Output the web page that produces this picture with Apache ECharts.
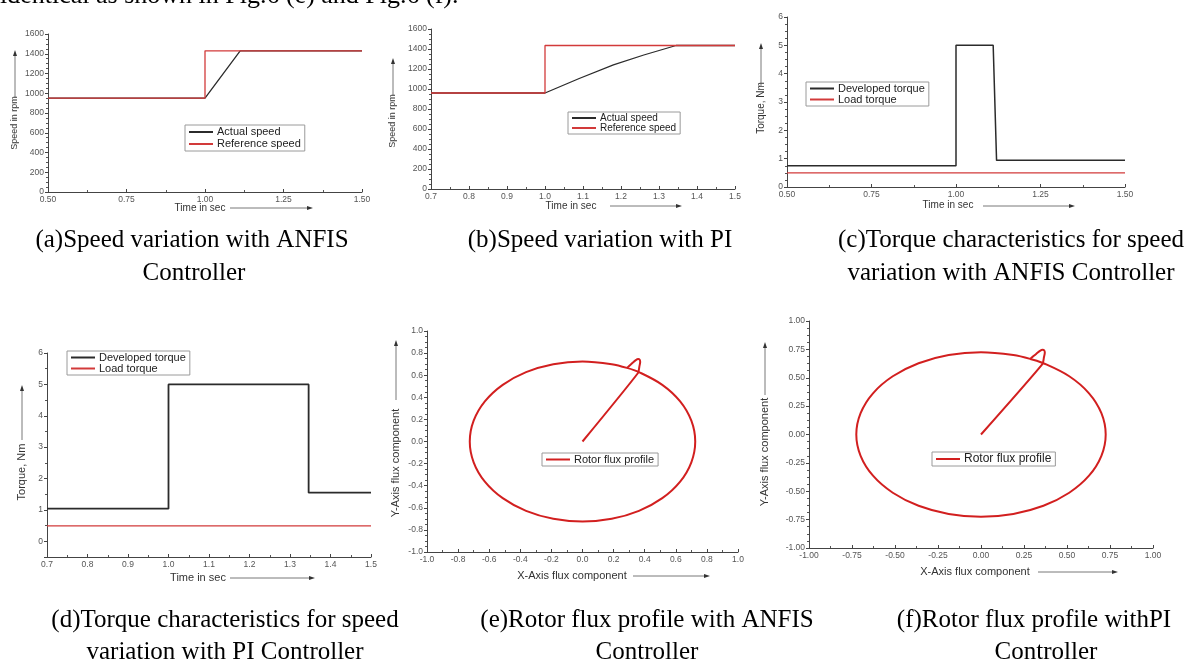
<!DOCTYPE html>
<html>
<head>
<meta charset="utf-8">
<script src="https://cdn.jsdelivr.net/npm/echarts@6/dist/echarts.min.js"></script>
<style>
  html, body { margin: 0; padding: 0; background: #fff; }
  #chart { width: 1195px; height: 664px; }
</style>
</head>
<body>
<div id="chart"></div>
<script>
// (a) speed with ANFIS
var timeAnfisRef = [0.5, 1.0, 1.0, 1.5]
var speedAnfisRef = [950, 950, 1430, 1430]
var timeAnfisAct = [0.5, 1.0, 1.112, 1.5]
var speedAnfisAct = [950, 950, 1430, 1430]
// (b) speed with PI
var timePiRef = [0.7, 1.0, 1.0, 1.5]
var speedPiRef = [960, 960, 1435, 1435]
var timePiAct = [0.7, 1.0, 1.09, 1.18, 1.26, 1.345, 1.5]
var speedPiAct = [960, 960, 1105, 1242, 1340, 1435, 1435]
// (c) torque with ANFIS
var timeAnfisDev = [0.5, 1.0, 1.0, 1.11, 1.12, 1.5]
var torqueAnfisDev = [0.75, 0.75, 5.0, 5.0, 0.94, 0.94]
var timeAnfisLoad = [0.5, 1.5]
var torqueAnfisLoad = [0.5, 0.5]
// (d) torque with PI
var timePiDev = [0.7, 1.0, 1.0, 1.346, 1.346, 1.5]
var torquePiDev = [1.04, 1.04, 5.0, 5.0, 1.55, 1.55]
var timePiLoad = [0.7, 1.5]
var torquePiLoad = [0.49, 0.49]
// (e) and (f) rotor flux locus (same shape for both controllers)
// start-up: straight rise from the origin and the small overshoot loop
var fluxStartX = [0, 0.357, 0.366, 0.371, 0.368, 0.358, 0.343, 0.322, 0.3, 0.286]
var fluxStartY = [0, 0.62, 0.68, 0.72, 0.74, 0.746, 0.737, 0.712, 0.684, 0.666]
// steady-state circle
var fluxRingX = [0.286, 0.188, 0, -0.188, -0.363, -0.513, -0.628, -0.7, -0.725, -0.7, -0.628, -0.513, -0.363, -0.188, 0, 0.188, 0.363, 0.513, 0.628, 0.7, 0.725, 0.7, 0.628, 0.513, 0.363, 0.286]
var fluxRingY = [0.666, 0.7, 0.725, 0.7, 0.628, 0.513, 0.363, 0.188, 0, -0.188, -0.363, -0.513, -0.628, -0.7, -0.725, -0.7, -0.628, -0.513, -0.363, -0.188, 0, 0.188, 0.363, 0.513, 0.628, 0.666]

var captions = [
  ['(a)Speed variation with ANFIS', 'Controller'],
  ['(b)Speed variation with PI', ''],
  ['(c)Torque characteristics for speed', 'variation with ANFIS Controller'],
  ['(d)Torque characteristics for speed', 'variation with PI Controller'],
  ['(e)Rotor flux profile with ANFIS', 'Controller'],
  ['(f)Rotor flux profile withPI', 'Controller']
]

var BLACK = '#2b2b2b'
var RED = '#d23a3a'
var FLUX = '#d21f1f'
var SANS = 'Liberation Sans, Arial, sans-serif'
var SERIF = 'Liberation Serif, Times New Roman, serif'

function pairs(xs, ys) {
  var out = []
  for (var i = 0; i < xs.length; i++) out.push([xs[i], ys[i]])
  return out
}

function xAxis(grid, min, max, interval, digits) {
  return {
    type: 'value', gridIndex: grid, min: min, max: max, interval: interval,
    axisLine: { onZero: false, lineStyle: { color: '#444', width: 1 } },
    axisTick: { inside: true, length: 3, lineStyle: { color: '#444' } },
    minorTick: { show: true, splitNumber: 2, length: 2, lineStyle: { color: '#555' } },
    splitLine: { show: false },
    axisLabel: {
      color: '#555', fontSize: 8.5, fontFamily: SANS, margin: 3,
      formatter: function(v) { return v.toFixed(digits) }
    }
  }
}

function yAxis(grid, min, max, interval, digits, splitNumber) {
  var ax = {
    type: 'value', gridIndex: grid, min: min, max: max,
    axisLine: { show: true, onZero: false, lineStyle: { color: '#444', width: 1 } },
    axisTick: { show: true, length: 3, lineStyle: { color: '#444' } },
    minorTick: { show: true, splitNumber: 4, length: 2, lineStyle: { color: '#555' } },
    splitLine: { show: false },
    axisLabel: {
      color: '#555', fontSize: 8.5, fontFamily: SANS, margin: 4,
      formatter: function(v) { return v.toFixed(digits) }
    }
  }
  if (interval) ax.interval = interval
  if (splitNumber) ax.splitNumber = splitNumber
  return ax
}

function line(name, grid, data, color, width, smooth) {
  return {
    name: name, type: 'line', xAxisIndex: grid, yAxisIndex: grid,
    data: data, showSymbol: false, symbol: 'none', smooth: smooth || false,
    lineStyle: { color: color, width: width }, itemStyle: { color: color },
    animation: false, silent: true
  }
}

function legend(left, top, names, fontSize, lineHeight) {
  return {
    left: left, top: top, orient: 'vertical', data: names,
    icon: 'rect', itemWidth: 24, itemHeight: 2, itemGap: 0,
    padding: [1, 4, 1, 4], borderColor: '#9a9a9a', borderWidth: 1,
    selectedMode: false,
    textStyle: { fontSize: fontSize, lineHeight: lineHeight, color: '#222', fontFamily: SANS, padding: [0, 0, 0, -1] }
  }
}

function arrow(x1, y1, x2, y2) {
  var dx = x2 - x1
  var dy = y2 - y1
  var len = Math.sqrt(dx * dx + dy * dy)
  var ux = dx / len
  var uy = dy / len
  var hl = 6
  var hw = 2
  return [
    { type: 'line', shape: { x1: x1, y1: y1, x2: x2 - ux * hl, y2: y2 - uy * hl }, style: { stroke: '#555', lineWidth: 0.8 } },
    { type: 'polygon', shape: { points: [[x2, y2], [x2 - ux * hl - uy * hw, y2 - uy * hl + ux * hw], [x2 - ux * hl + uy * hw, y2 - uy * hl - ux * hw]] }, style: { fill: '#333' } }
  ]
}

function label(text, x, y, size, vertical) {
  return {
    type: 'text', x: x, y: y, rotation: vertical ? Math.PI / 2 : 0,
    style: { text: text, fill: '#333', font: size + 'px ' + SANS, align: 'center', verticalAlign: 'middle' }
  }
}

function caption(text, x, y) {
  return {
    type: 'text', x: x, y: y,
    style: { text: text, fill: '#000', font: '25px ' + SERIF, align: 'center', verticalAlign: 'middle' }
  }
}

var graphics = [
  { type: 'text', x: 0, y: 9, style: { text: 'identical as shown in Fig.6 (e) and Fig.6 (f).', fill: '#000', font: '26px ' + SERIF, align: 'left', verticalAlign: 'bottom' } },
  label('Speed in rpm', 15, 123, 9, true),
  label('Time in sec', 200, 208, 10),
  label('Speed in rpm', 393, 121, 9, true),
  label('Time in sec', 571, 206, 10),
  label('Torque, Nm', 761, 108, 10, true),
  label('Time in sec', 948, 205, 10),
  label('Torque, Nm', 22, 472, 11, true),
  label('Time in sec', 198, 578, 11),
  label('Y-Axis flux component', 396, 463, 11, true),
  label('X-Axis flux component', 572, 576, 11),
  label('Y-Axis flux component', 765, 452, 11, true),
  label('X-Axis flux component', 975, 572, 11)
]
graphics = graphics
  .concat(arrow(15, 97, 15, 50)).concat(arrow(230, 208, 313, 208))
  .concat(arrow(393, 95, 393, 58)).concat(arrow(610, 206, 682, 206))
  .concat(arrow(761, 86, 761, 43)).concat(arrow(983, 206, 1075, 206))
  .concat(arrow(22, 440, 22, 385)).concat(arrow(230, 578, 315, 578))
  .concat(arrow(396, 400, 396, 340)).concat(arrow(633, 576, 710, 576))
  .concat(arrow(765, 395, 765, 342)).concat(arrow(1038, 572, 1118, 572))

var capPos = [[192, 240, 194, 273], [600, 240, 0, 0], [1011, 240, 1011, 273],
  [225, 620, 225, 652], [647, 620, 647, 652], [1034, 620, 1046, 652]]
captions.forEach(function(c, i) {
  var p = capPos[i]
  graphics.push(caption(c[0], p[0], p[1]))
  if (c[1]) graphics.push(caption(c[1], p[2], p[3]))
})

var chart = echarts.init(document.getElementById('chart'), null, { renderer: 'canvas' })
var option = {
  backgroundColor: '#fff',
  animation: false,
  grid: [
    { left: 48, top: 34, width: 314, height: 158 },
    { left: 431, top: 29, width: 304, height: 160 },
    { left: 787, top: 17, width: 338, height: 170 },
    { left: 47, top: 353, width: 324, height: 204 },
    { left: 427, top: 331, width: 311, height: 221 },
    { left: 809, top: 321, width: 344, height: 227 }
  ],
  xAxis: [
    xAxis(0, 0.5, 1.5, 0.25, 2),
    xAxis(1, 0.7, 1.5, 0.1, 1),
    xAxis(2, 0.5, 1.5, 0.25, 2),
    xAxis(3, 0.7, 1.5, 0.1, 1),
    xAxis(4, -1, 1, 0.2, 1),
    xAxis(5, -1, 1, 0.25, 2)
  ],
  yAxis: [
    yAxis(0, 0, 1600, 200, 0),
    yAxis(1, 0, 1600, 200, 0),
    yAxis(2, 0, 6, 1, 0),
    (function() {
      var ax = yAxis(3, -0.5, 6, null, 0, 6)
      ax.axisLabel.showMinLabel = false
      ax.minorTick.splitNumber = 2
      return ax
    })(),
    yAxis(4, -1, 1, 0.2, 1),
    yAxis(5, -1, 1, 0.25, 2)
  ],
  legend: [
    legend(185, 125, ['Actual speed', 'Reference speed'], 11, 12),
    legend(568, 112, ['Actual speed', 'Reference speed'], 10, 9),
    legend(806, 82, ['Developed torque', 'Load torque'], 11, 8),
    legend(67, 351, ['Developed torque', 'Load torque'], 11, 10.5),
    legend(542, 453, ['Rotor flux profile'], 11, 11),
    legend(932, 452, ['Rotor flux profile'], 12, 12)
  ],
  series: [
    line('Actual speed', 0, pairs(timeAnfisAct, speedAnfisAct), BLACK, 1.3),
    line('Reference speed', 0, pairs(timeAnfisRef, speedAnfisRef), RED, 1.3),
    line('Actual speed', 1, pairs(timePiAct, speedPiAct), BLACK, 1.3),
    line('Reference speed', 1, pairs(timePiRef, speedPiRef), RED, 1.3),
    line('Developed torque', 2, pairs(timeAnfisDev, torqueAnfisDev), BLACK, 1.5),
    line('Load torque', 2, pairs(timeAnfisLoad, torqueAnfisLoad), RED, 1.2),
    line('Developed torque', 3, pairs(timePiDev, torquePiDev), BLACK, 1.8),
    line('Load torque', 3, pairs(timePiLoad, torquePiLoad), RED, 1.3),
    line('Rotor flux profile', 4, pairs(fluxStartX, fluxStartY), FLUX, 2, 0.2),
    line('Rotor flux profile', 4, pairs(fluxRingX, fluxRingY), FLUX, 2, 0.35),
    line('Rotor flux profile', 5, pairs(fluxStartX, fluxStartY), FLUX, 2, 0.2),
    line('Rotor flux profile', 5, pairs(fluxRingX, fluxRingY), FLUX, 2, 0.35)
  ],
  graphic: graphics
}
chart.setOption(option)
</script>
</body>
</html>
